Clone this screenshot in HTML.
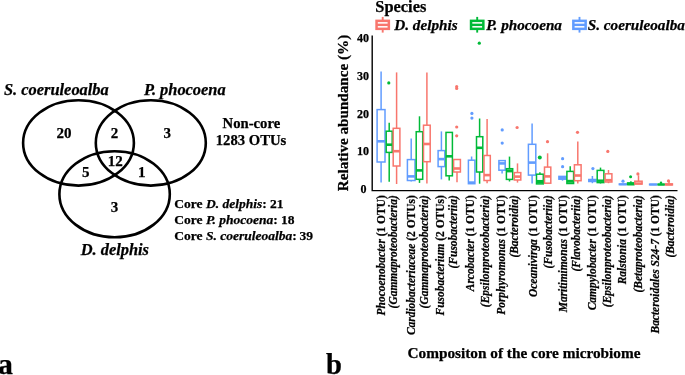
<!DOCTYPE html>
<html><head><meta charset="utf-8"><title>Core microbiome</title>
<style>
html,body{margin:0;padding:0;background:#fff;}
body{width:685px;height:375px;overflow:hidden;}
svg{display:block;font-family:"Liberation Serif","Times New Roman",serif;font-weight:bold;fill:#000;}
text{stroke:#000;stroke-width:0.25px;}
</style></head><body>
<svg width="685" height="375" viewBox="0 0 685 375">
<rect width="685" height="375" fill="#fff"/>
<!-- Venn diagram -->
<g fill="none" stroke="#000" stroke-width="2.6">
<ellipse cx="78.5" cy="142.9" rx="55.4" ry="42.7"/>
<ellipse cx="150.8" cy="142.9" rx="55" ry="42.7"/>
<ellipse cx="114.6" cy="194.2" rx="55.2" ry="43"/>
</g>
<g font-size="16.4" font-style="italic">
<text x="4" y="94.8">S. coeruleoalba</text>
<text x="144" y="94.8">P. phocoena</text>
<text x="80.7" y="255.4">D. delphis</text>
</g>
<g font-size="15" text-anchor="middle">
<text x="64" y="138.1">20</text>
<text x="114.5" y="138.1">2</text>
<text x="167.3" y="138.1">3</text>
<text x="85.7" y="177.2">5</text>
<text x="115.2" y="166">12</text>
<text x="141.7" y="177.2">1</text>
<text x="114.5" y="211.7">3</text>
</g>
<g font-size="14.7" text-anchor="middle">
<text x="251.4" y="128">Non-core</text>
<text x="251" y="145.2">1283 OTUs</text>
</g>
<g font-size="13.5">
<text x="174.3" y="208.1">Core <tspan font-style="italic">D. delphis</tspan>: 21</text>
<text x="174.3" y="224.2">Core <tspan font-style="italic">P. phocoena</tspan>: 18</text>
<text x="174.3" y="240.3">Core <tspan font-style="italic">S. coeruleoalba</tspan>:<tspan dx="2.8">39</tspan></text>
</g>
<text x="-2" y="374" font-size="29.8">a</text>
<text x="325.9" y="374" font-size="28.6">b</text>
<!-- Box plot -->
<text x="375.3" y="11.5" font-size="16.4">Species</text>
<g stroke="#F8766D" fill="none"><line x1="382.7" y1="16.9" x2="382.7" y2="32.6" stroke-width="1.9"/><rect x="376.55" y="20.85" width="12.3" height="8.0" fill="#fff" stroke-width="2.5"/><line x1="376.5" y1="24.85" x2="388.9" y2="24.85" stroke-width="2.4"/></g><g stroke="#00BA38" fill="none"><line x1="477.2" y1="16.9" x2="477.2" y2="32.6" stroke-width="1.9"/><rect x="471.05" y="20.85" width="12.3" height="8.0" fill="#fff" stroke-width="2.5"/><line x1="471" y1="24.85" x2="483.4" y2="24.85" stroke-width="2.4"/></g><g stroke="#619CFF" fill="none"><line x1="579.5" y1="16.9" x2="579.5" y2="32.6" stroke-width="1.9"/><rect x="573.3499999999999" y="20.85" width="12.3" height="8.0" fill="#fff" stroke-width="2.5"/><line x1="573.3" y1="24.85" x2="585.6999999999999" y2="24.85" stroke-width="2.4"/></g>
<g font-size="15.2" font-style="italic">
<text x="394.3" y="29.7">D. delphis</text>
<text x="486.3" y="29.7">P. phocoena</text>
<text x="587.8" y="29.7">S. coeruleoalba</text>
</g>
<text transform="translate(347.7,113.0) rotate(-90)" text-anchor="middle" font-size="15.15">Relative abundance (%)</text>
<text x="369" y="42.2" text-anchor="end" font-size="12">40</text><text x="369" y="80.1" text-anchor="end" font-size="12">30</text><text x="369" y="118.0" text-anchor="end" font-size="12">20</text><text x="369" y="155.3" text-anchor="end" font-size="12">10</text><text x="366.5" y="193.3" text-anchor="end" font-size="12">0</text>
<g stroke="#619CFF" stroke-width="1.5" fill="none"><line x1="381.1" y1="71.6" x2="381.1" y2="109.6"/><line x1="381.1" y1="162.0" x2="381.1" y2="182.4"/><rect x="377.1" y="109.6" width="7.9" height="52.4" fill="#fff"/><line x1="377.1" y1="141.3" x2="385.0" y2="141.3" stroke-width="2.6"/></g><g stroke="#00BA38" stroke-width="1.5" fill="none"><line x1="389.2" y1="122.8" x2="389.2" y2="131.2"/><line x1="389.2" y1="152.4" x2="389.2" y2="181.7"/><rect x="386.2" y="131.2" width="6.0" height="21.2" fill="#fff"/><line x1="386.2" y1="144.7" x2="392.2" y2="144.7" stroke-width="2.6"/></g><circle cx="388.8" cy="82.9" r="1.6" fill="#00BA38"/><g stroke="#F8766D" stroke-width="1.5" fill="none"><line x1="396.6" y1="72.4" x2="396.6" y2="128.3"/><line x1="396.6" y1="166.0" x2="396.6" y2="184.0"/><rect x="393.2" y="128.3" width="6.7" height="37.7" fill="#fff"/><line x1="393.2" y1="151.2" x2="399.9" y2="151.2" stroke-width="2.6"/></g><g stroke="#619CFF" stroke-width="1.5" fill="none"><line x1="411.2" y1="138.4" x2="411.2" y2="159.6"/><line x1="411.2" y1="180.5" x2="411.2" y2="181.6"/><rect x="407.4" y="159.6" width="7.6" height="20.9" fill="#fff"/><line x1="407.4" y1="176.4" x2="415.0" y2="176.4" stroke-width="2.6"/></g><g stroke="#00BA38" stroke-width="1.5" fill="none"><line x1="419.5" y1="116.3" x2="419.5" y2="131.7"/><line x1="419.5" y1="179.3" x2="419.5" y2="182.9"/><rect x="416.2" y="131.7" width="6.5" height="47.6" fill="#fff"/><line x1="416.2" y1="170.4" x2="422.7" y2="170.4" stroke-width="2.6"/></g><g stroke="#F8766D" stroke-width="1.5" fill="none"><line x1="426.9" y1="72.4" x2="426.9" y2="125.2"/><line x1="426.9" y1="161.7" x2="426.9" y2="183.6"/><rect x="423.5" y="125.2" width="6.7" height="36.5" fill="#fff"/><line x1="423.5" y1="144.0" x2="430.2" y2="144.0" stroke-width="2.6"/></g><g stroke="#619CFF" stroke-width="1.5" fill="none"><line x1="441.4" y1="131.4" x2="441.4" y2="150.6"/><line x1="441.4" y1="166.6" x2="441.4" y2="179.4"/><rect x="438.1" y="150.6" width="6.7" height="16.0" fill="#fff"/><line x1="438.1" y1="159.1" x2="444.8" y2="159.1" stroke-width="2.6"/></g><g stroke="#00BA38" stroke-width="1.5" fill="none"><line x1="449.2" y1="175.8" x2="449.2" y2="180.5"/><rect x="446.0" y="132.4" width="6.4" height="43.4" fill="#fff"/><line x1="446.0" y1="156.3" x2="452.4" y2="156.3" stroke-width="2.6"/></g><g stroke="#F8766D" stroke-width="1.5" fill="none"><line x1="457.0" y1="172.0" x2="457.0" y2="182.2"/><rect x="453.6" y="159.5" width="6.8" height="12.5" fill="#fff"/><line x1="453.6" y1="168.5" x2="460.4" y2="168.5" stroke-width="2.6"/></g><circle cx="456.7" cy="127.0" r="1.6" fill="#F8766D"/><circle cx="456.7" cy="135.8" r="1.6" fill="#F8766D"/><circle cx="456.7" cy="86.7" r="1.6" fill="#F8766D"/><circle cx="456.7" cy="88.5" r="1.6" fill="#F8766D"/><g stroke="#619CFF" stroke-width="1.5" fill="none"><line x1="471.6" y1="156.5" x2="471.6" y2="160.2"/><rect x="468.4" y="160.2" width="6.5" height="23.5" fill="#fff"/><line x1="468.4" y1="182.6" x2="474.9" y2="182.6" stroke-width="2.6"/></g><circle cx="471.9" cy="113.4" r="1.6" fill="#619CFF"/><circle cx="471.9" cy="118.1" r="1.6" fill="#619CFF"/><g stroke="#00BA38" stroke-width="1.5" fill="none"><line x1="479.6" y1="118.5" x2="479.6" y2="136.7"/><line x1="479.6" y1="172.0" x2="479.6" y2="183.7"/><rect x="476.5" y="136.7" width="6.3" height="35.3" fill="#fff"/><line x1="476.5" y1="147.8" x2="482.8" y2="147.8" stroke-width="2.6"/></g><circle cx="479.3" cy="43.2" r="1.6" fill="#00BA38"/><g stroke="#F8766D" stroke-width="1.5" fill="none"><line x1="487.1" y1="119.0" x2="487.1" y2="155.5"/><line x1="487.1" y1="180.5" x2="487.1" y2="183.2"/><rect x="484.0" y="155.5" width="6.3" height="25.0" fill="#fff"/><line x1="484.0" y1="175.1" x2="490.3" y2="175.1" stroke-width="2.6"/></g><g stroke="#619CFF" stroke-width="1.5" fill="none"><line x1="502.1" y1="170.2" x2="502.1" y2="173.4"/><rect x="498.9" y="160.6" width="6.3" height="9.6" fill="#fff"/><line x1="498.9" y1="163.4" x2="505.2" y2="163.4" stroke-width="2.6"/></g><circle cx="502.2" cy="129.9" r="1.6" fill="#619CFF"/><circle cx="502.2" cy="143.1" r="1.6" fill="#619CFF"/><g stroke="#00BA38" stroke-width="1.5" fill="none"><line x1="509.5" y1="156.6" x2="509.5" y2="168.7"/><line x1="509.5" y1="179.4" x2="509.5" y2="181.5"/><rect x="506.4" y="168.7" width="6.3" height="10.7" fill="#fff"/><line x1="506.4" y1="170.9" x2="512.7" y2="170.9" stroke-width="3"/></g><g stroke="#F8766D" stroke-width="1.5" fill="none"><line x1="517.5" y1="163.4" x2="517.5" y2="172.6"/><line x1="517.5" y1="180.0" x2="517.5" y2="182.6"/><rect x="514.3" y="172.6" width="6.5" height="7.4" fill="#fff"/><line x1="514.3" y1="176.6" x2="520.8" y2="176.6" stroke-width="2.6"/></g><circle cx="517.1" cy="127.5" r="1.6" fill="#F8766D"/><g stroke="#619CFF" stroke-width="1.5" fill="none"><line x1="532.1" y1="123.4" x2="532.1" y2="144.3"/><line x1="532.1" y1="175.1" x2="532.1" y2="183.5"/><rect x="528.4" y="144.3" width="7.4" height="30.8" fill="#fff"/><line x1="528.4" y1="162.6" x2="535.8" y2="162.6" stroke-width="2.6"/></g><g stroke="#00BA38" stroke-width="1.5" fill="none"><line x1="539.9" y1="172.3" x2="539.9" y2="174.2"/><rect x="536.5" y="174.2" width="6.8" height="9.7" fill="#fff"/><line x1="536.5" y1="181.7" x2="543.3" y2="181.7" stroke-width="3.5"/></g><circle cx="539.8" cy="157.6" r="2.0" fill="#00BA38"/><g stroke="#F8766D" stroke-width="1.5" fill="none"><line x1="547.6" y1="153.3" x2="547.6" y2="167.1"/><rect x="544.5" y="167.1" width="6.3" height="16.1" fill="#fff"/><line x1="544.5" y1="176.4" x2="550.8" y2="176.4" stroke-width="2.6"/></g><circle cx="547.5" cy="141.7" r="1.6" fill="#F8766D"/><g stroke="#619CFF" stroke-width="1.5" fill="none"><line x1="562.5" y1="179.2" x2="562.5" y2="180.7"/><rect x="558.9" y="176.4" width="7.2" height="2.8" fill="#fff"/><line x1="558.9" y1="177.8" x2="566.1" y2="177.8" stroke-width="3"/></g><circle cx="562.6" cy="158.7" r="1.6" fill="#619CFF"/><circle cx="562.6" cy="166.7" r="1.6" fill="#619CFF"/><g stroke="#00BA38" stroke-width="1.5" fill="none"><line x1="570.2" y1="166.3" x2="570.2" y2="171.4"/><rect x="566.9" y="171.4" width="6.7" height="12.1" fill="#fff"/><line x1="566.9" y1="181.3" x2="573.6" y2="181.3" stroke-width="3"/></g><g stroke="#F8766D" stroke-width="1.5" fill="none"><line x1="577.8" y1="141.5" x2="577.8" y2="164.8"/><line x1="577.8" y1="180.7" x2="577.8" y2="183.5"/><rect x="574.4" y="164.8" width="6.7" height="15.9" fill="#fff"/><line x1="574.4" y1="175.5" x2="581.1" y2="175.5" stroke-width="2.6"/></g><circle cx="577.5" cy="132.3" r="1.6" fill="#F8766D"/><g stroke="#619CFF" stroke-width="1.5" fill="none"><line x1="592.4" y1="176.0" x2="592.4" y2="179.5"/><line x1="592.4" y1="181.5" x2="592.4" y2="183.2"/><rect x="588.8" y="179.5" width="7.2" height="2.0" fill="#fff"/><line x1="588.8" y1="180.5" x2="596.0" y2="180.5" stroke-width="2.5"/></g><circle cx="592.9" cy="168.6" r="1.6" fill="#619CFF"/><g stroke="#00BA38" stroke-width="1.5" fill="none"><line x1="600.5" y1="167.6" x2="600.5" y2="170.4"/><line x1="600.5" y1="182.6" x2="600.5" y2="183.5"/><rect x="597.2" y="170.4" width="6.7" height="12.2" fill="#fff"/><line x1="597.2" y1="180.7" x2="603.9" y2="180.7" stroke-width="2.5"/></g><g stroke="#F8766D" stroke-width="1.5" fill="none"><line x1="608.5" y1="170.0" x2="608.5" y2="173.8"/><line x1="608.5" y1="182.0" x2="608.5" y2="183.2"/><rect x="605.1" y="173.8" width="6.8" height="8.2" fill="#fff"/><line x1="605.1" y1="180.2" x2="611.9" y2="180.2" stroke-width="2.6"/></g><circle cx="607.8" cy="151.4" r="1.6" fill="#F8766D"/><g stroke="#619CFF" stroke-width="1.5" fill="none"><rect x="619.3" y="184.0" width="7.1" height="0.6" fill="#fff"/><line x1="619.3" y1="184.3" x2="626.4" y2="184.3" stroke-width="2"/></g><circle cx="623.0" cy="181.2" r="1.6" fill="#619CFF"/><g stroke="#00BA38" stroke-width="1.5" fill="none"><line x1="630.9" y1="181.2" x2="630.9" y2="182.9"/><rect x="627.6" y="182.9" width="6.5" height="1.7" fill="#fff"/><line x1="627.6" y1="184.0" x2="634.1" y2="184.0" stroke-width="2.5"/></g><circle cx="630.6" cy="176.8" r="1.5" fill="#00BA38"/><g stroke="#F8766D" stroke-width="1.5" fill="none"><line x1="638.5" y1="175.3" x2="638.5" y2="181.2"/><rect x="634.8" y="181.2" width="7.3" height="2.9" fill="#fff"/><line x1="634.8" y1="183.3" x2="642.1" y2="183.3" stroke-width="2"/></g><circle cx="637.9" cy="173.9" r="1.6" fill="#F8766D"/><g stroke="#619CFF" stroke-width="1.5" fill="none"><rect x="649.6" y="184.2" width="7.3" height="0.6" fill="#fff"/><line x1="649.6" y1="184.5" x2="656.9" y2="184.5" stroke-width="2"/></g><g stroke="#00BA38" stroke-width="1.5" fill="none"><rect x="658.1" y="184.2" width="6.3" height="0.6" fill="#fff"/><line x1="658.1" y1="184.5" x2="664.4" y2="184.5" stroke-width="2"/></g><circle cx="661.0" cy="182.7" r="1.2" fill="#00BA38"/><g stroke="#F8766D" stroke-width="1.5" fill="none"><line x1="669.0" y1="181.2" x2="669.0" y2="183.9"/><rect x="665.6" y="183.9" width="6.8" height="1.0" fill="#fff"/><line x1="665.6" y1="184.5" x2="672.4" y2="184.5" stroke-width="2"/></g><circle cx="668.5" cy="180.9" r="1.6" fill="#F8766D"/>
<path d="M372.2 35.5V190.6H677.5" fill="none" stroke="#000" stroke-width="1.4"/>
<text transform="translate(384.5,195.3) rotate(-90)" text-anchor="end" font-size="11.45" font-style="italic">Phocoenobacter <tspan font-style="normal">(1 OTU)</tspan></text><text transform="translate(397.4,195.3) rotate(-90)" text-anchor="end" font-size="11.45" font-style="italic">(Gammaproteobacteria)</text><text transform="translate(414.6,195.3) rotate(-90)" text-anchor="end" font-size="11.45" font-style="italic">Cardiobacteriaceae <tspan font-style="normal">(2 OTUs)</tspan></text><text transform="translate(427.5,195.3) rotate(-90)" text-anchor="end" font-size="11.45" font-style="italic">(Gammaproteobacteria)</text><text transform="translate(444.2,195.3) rotate(-90)" text-anchor="end" font-size="11.45" font-style="italic">Fusobacterium <tspan font-style="normal">(2 OTUs)</tspan></text><text transform="translate(457.4,195.3) rotate(-90)" text-anchor="end" font-size="11.45" font-style="italic">(Fusobacteriia)</text><text transform="translate(474.2,195.3) rotate(-90)" text-anchor="end" font-size="11.45" font-style="italic">Arcobacter <tspan font-style="normal">(1 OTU)</tspan></text><text transform="translate(488.6,195.3) rotate(-90)" text-anchor="end" font-size="11.45" font-style="italic">(Epsilonproteobacteria)</text><text transform="translate(504.6,195.3) rotate(-90)" text-anchor="end" font-size="11.45" font-style="italic">Porphyromonas <tspan font-style="normal">(1 OTU)</tspan></text><text transform="translate(518.2,195.3) rotate(-90)" text-anchor="end" font-size="11.45" font-style="italic">(Bacteroidia)</text><text transform="translate(536.9,195.3) rotate(-90)" text-anchor="end" font-size="11.45" font-style="italic">Oceanivirga <tspan font-style="normal">(1 OTU)</tspan></text><text transform="translate(552.0,195.3) rotate(-90)" text-anchor="end" font-size="11.45" font-style="italic">(Fusobacteriia)</text><text transform="translate(566.8,195.3) rotate(-90)" text-anchor="end" font-size="11.45" font-style="italic">Maritimimonas <tspan font-style="normal">(1 OTU)</tspan></text><text transform="translate(580.0,195.3) rotate(-90)" text-anchor="end" font-size="11.45" font-style="italic">(Flavobacteriia)</text><text transform="translate(596.4,195.3) rotate(-90)" text-anchor="end" font-size="11.45" font-style="italic">Campylobacter <tspan font-style="normal">(1 OTU)</tspan></text><text transform="translate(611.0,195.3) rotate(-90)" text-anchor="end" font-size="11.45" font-style="italic">(Epsilonproteobacteria)</text><text transform="translate(626.4,195.3) rotate(-90)" text-anchor="end" font-size="11.45" font-style="italic">Ralstonia <tspan font-style="normal">(1 OTU)</tspan></text><text transform="translate(641.8,195.3) rotate(-90)" text-anchor="end" font-size="11.45" font-style="italic">(Betaproteobacteria)</text><text transform="translate(659.0,195.3) rotate(-90)" text-anchor="end" font-size="11.45" font-style="italic">Bacteroidales S24-7 <tspan font-style="normal">(1 OTU)</tspan></text><text transform="translate(673.8,195.3) rotate(-90)" text-anchor="end" font-size="11.45" font-style="italic">(Bacteroidia)</text>
<text x="524" y="358.4" text-anchor="middle" font-size="15.3">Compositon of the core microbiome</text>
</svg>
</body></html>
